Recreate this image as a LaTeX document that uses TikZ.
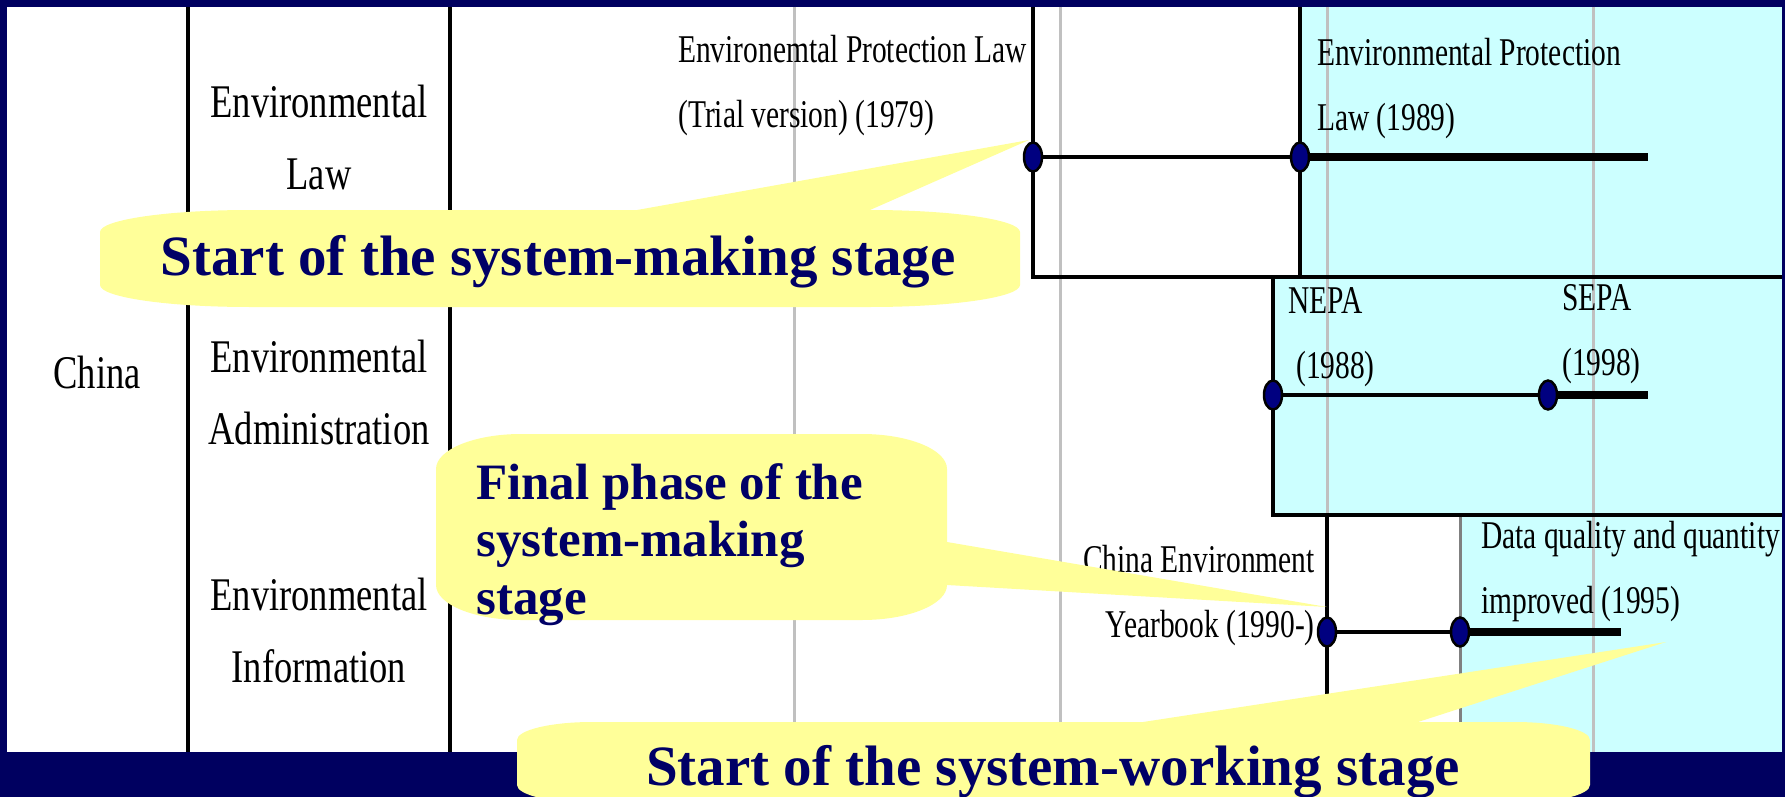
\documentclass[tikz,border=0pt]{standalone}
\usepackage{fontspec}
\setmainfont{Liberation Serif}
\newfontfamily\rowfont[FakeStretch=0.78]{Liberation Serif}
\newfontfamily\eventfont[FakeStretch=0.75]{Liberation Serif}
\usetikzlibrary{shapes.geometric}
\definecolor{navyframe}{RGB}{0,0,96}
\definecolor{calltext}{RGB}{0,0,102}
\definecolor{callfill}{RGB}{255,255,153}
\definecolor{boxcyan}{RGB}{204,255,255}
\definecolor{gridgray}{RGB}{192,192,192}
\definecolor{edgegray}{RGB}{128,128,128}
\definecolor{dotnavy}{RGB}{0,0,128}
\tikzset{
  rowlabel/.style={font=\rowfont\fontsize{46.8}{72}\selectfont, align=center, inner sep=0pt},
  event/.style={font=\eventfont\fontsize{39.3}{65}\selectfont, inner sep=0pt},
  calltxt/.style={font=\bfseries\fontsize{57}{57}\selectfont, text=calltext, inner sep=0pt},
  milestone/.style={ellipse, draw=black, line width=2.5pt, fill=dotnavy, minimum width=18pt, minimum height=29pt, inner sep=0pt},
  frameline/.style={line width=3.5pt},
  thinline/.style={line width=4pt},
  thickline/.style={line width=8pt},
  gridline/.style={gridgray, line width=3pt},
  bubble/.style={fill=callfill}
}
\begin{document}
\begin{tikzpicture}[x=1pt,y=-1pt]
	\useasboundingbox (0,0) rectangle (1785,797);
	\fill[navyframe] (0,0) rectangle (1785,797);
	\fill[white] (7,7) rectangle (1782,752);

	% shaded periods
	\fill[boxcyan] (1300,7) rectangle (1782,277);
	\fill[boxcyan] (1273,277) rectangle (1782,515);
	\fill[boxcyan] (1460,515) rectangle (1782,752);

	% year grid
	\foreach \x in {794,1060,1327,1593}{
		\draw[gridline] (\x,7) -- (\x,752);
	}
	\draw[edgegray, line width=3pt] (1460,515) -- (1460,752);

	% table rules
	\draw[frameline] (188,7) -- (188,752);
	\draw[frameline] (450,7) -- (450,752);
	\draw[frameline] (1033,7) -- (1033,277) -- (1782,277);
	\draw[frameline] (1300,7) -- (1300,277);
	\draw[frameline] (1273,277) -- (1273,515) -- (1782,515);
	\draw[frameline] (1327,515) -- (1327,752);

	% row labels
	\node[rowlabel, anchor=base] (china) at (97,388) {China};
	\node[rowlabel, anchor=north] (lawrow) at (319,85) {Environmental\\Law};
	\node[rowlabel, anchor=north] (admrow) at (319,340) {Environmental\\Administration};
	\node[rowlabel, anchor=north] (infrow) at (319,578) {Environmental\\Information};

	% events
	\node[event, align=left, anchor=north west] (trial) at (678,35) {Environemtal Protection Law\\(Trial version) (1979)};
	\node[event, align=left, anchor=north west] (epl) at (1317,38) {Environmental Protection\\Law (1989)};
	\node[event, align=left, anchor=north west] (nepa) at (1288,287) {NEPA\\\hspace{8pt}(1988)};
	\node[event, align=left, anchor=north west] (sepa) at (1562,284) {SEPA\\(1998)};
	\node[event, align=right, anchor=north east] (yearbook) at (1315,545) {China Environment\\Yearbook (1990-)};
	\node[event, align=left, anchor=north west] (dataq) at (1481,521) {Data quality and quantity\\improved (1995)};

	% timelines
	\node[milestone] (d79) at (1033,157) {};
	\node[milestone] (d89) at (1300,157) {};
	\node[milestone] (d88) at (1273,395) {};
	\node[milestone] (d98) at (1548,395) {};
	\node[milestone] (d90) at (1327,632) {};
	\node[milestone] (d95) at (1460,632) {};
	\coordinate (lawend) at (1648,157);
	\coordinate (admend) at (1648,395);
	\coordinate (infend) at (1621,632);
	\draw[thinline] (d79) -- (d89);
	\draw[thickline] (d89) -- (lawend);
	\draw[thinline] (d88) -- (d98);
	\draw[thickline] (d98) -- (admend);
	\draw[thinline] (d90) -- (d95);
	\draw[thickline] (d95) -- (infend);

	% callouts
	\fill[bubble] (100,232) .. controls (100,219.8) and (167.2,210) .. (250,210)
		-- (637,210) -- (1029,140) -- (870,210)
		.. controls (952.8,210) and (1020,219.8) .. (1020,232) -- (1020,285)
		.. controls (1020,297.2) and (952.8,307) .. (870,307) -- (250,307)
		.. controls (167.2,307) and (100,297.2) .. (100,285) -- cycle;
	\node[calltxt, anchor=base] (callmaking) at (558,275) {Start of the system-making stage};

	\fill[bubble] (436,469) .. controls (436,449.7) and (474.1,434) .. (521,434) -- (862,434)
		.. controls (908.9,434) and (947,449.7) .. (947,469) -- (947,542) -- (1327,607) -- (947,585)
		.. controls (947,604.3) and (908.9,620) .. (862,620) -- (521,620)
		.. controls (474.1,620) and (436,604.3) .. (436,585) -- cycle;
	\node[calltxt, font=\bfseries\fontsize{51}{57.5}\selectfont, align=left, anchor=north west] (callfinal) at (476,463) {Final phase of the\\system-making\\stage};

	\fill[bubble] (517,740) .. controls (517,730.1) and (550.6,722) .. (592,722) -- (1143,722)
		-- (1666,642) -- (1418,722) -- (1515,722)
		.. controls (1556.4,722) and (1590,730.1) .. (1590,740) -- (1590,785)
		.. controls (1590,794.9) and (1556.4,803) .. (1515,803) -- (592,803)
		.. controls (550.6,803) and (517,794.9) .. (517,785) -- cycle;
	\node[calltxt, anchor=base] (callworking) at (1053,785) {Start of the system-working stage};
\end{tikzpicture}
\end{document}
